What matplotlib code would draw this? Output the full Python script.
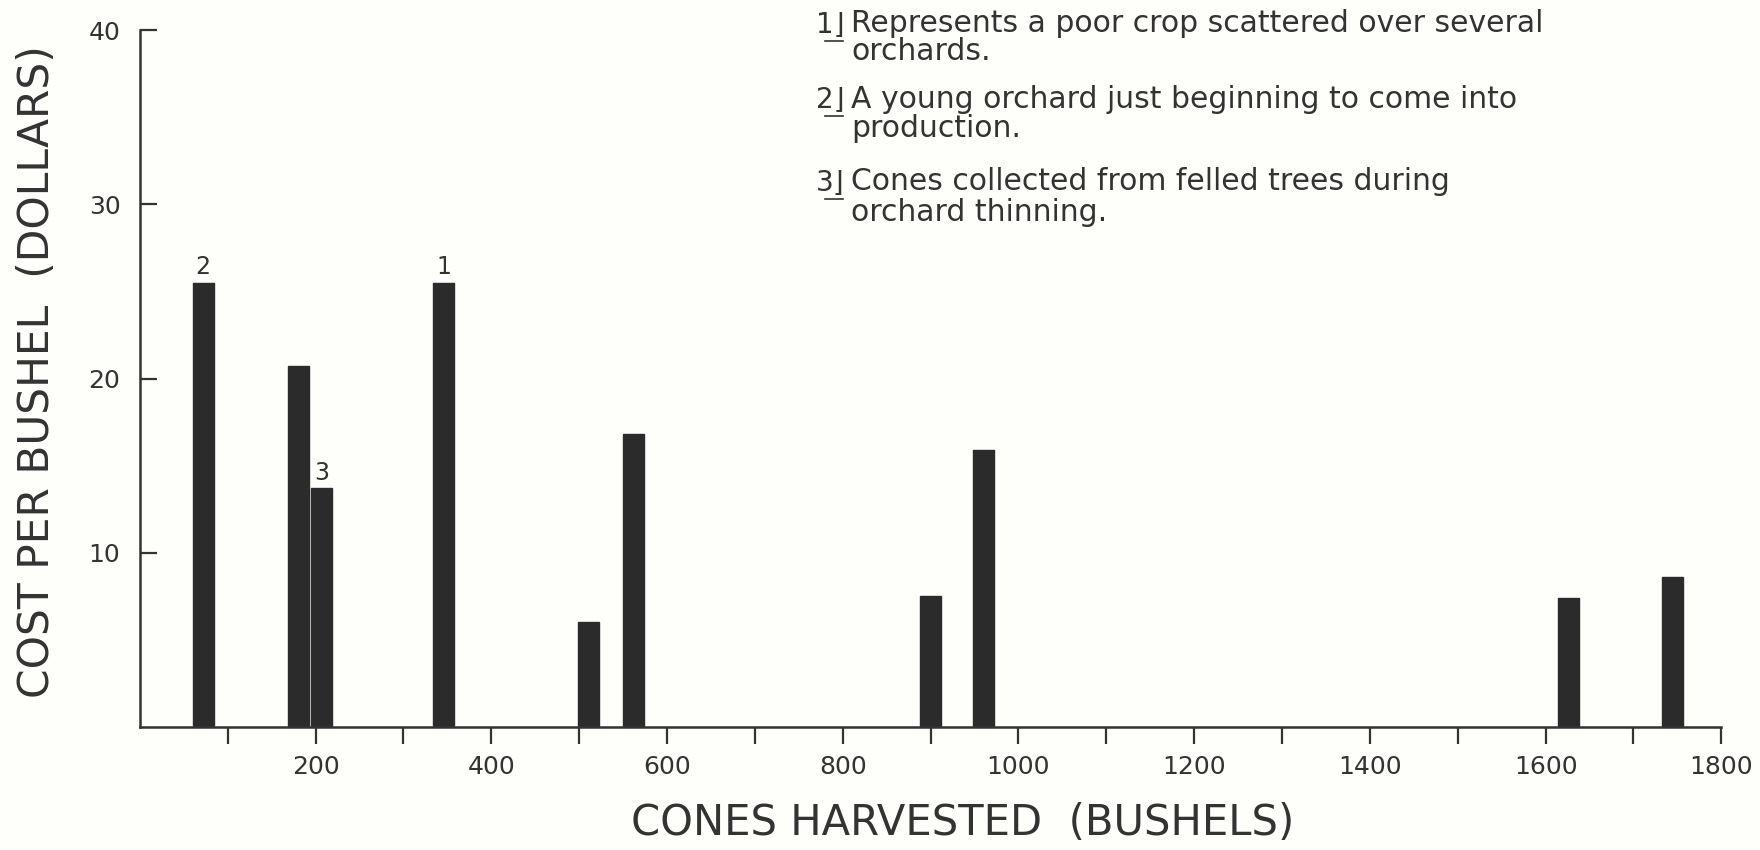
import matplotlib.pyplot as plt
from matplotlib.lines import Line2D

# bushels harvested per orchard and the cost per bushel
bushels = [72, 180, 207, 346, 511, 562, 900, 960, 1626, 1744]
cost = [25.5, 20.7, 13.7, 25.5, 6.0, 16.8, 7.5, 15.9, 7.4, 8.6]
bar_notes = ["2", "", "3", "1", "", "", "", "", "", ""]

note_keys = ["1", "2", "3"]
note_lines = [
    ["Represents a poor crop scattered over several", "orchards."],
    ["A young orchard just beginning to come into", "production."],
    ["Cones collected from felled trees during", "orchard thinning."],
]

ink = "#2b2b2b"
txt_col = "#333333"
bg = "#fefefb"

fig = plt.figure(figsize=(17.6, 8.5), dpi=100, facecolor=bg)
ax = fig.add_axes([0.0795, 0.1447, 0.8985, 0.82])
ax.set_facecolor(bg)

ax.bar(bushels, cost, width=24, color=ink, edgecolor=ink)

for x, y, n in zip(bushels, cost, bar_notes):
    if n:
        ax.text(x, y + 0.2, n, ha="center", va="bottom", fontsize=17, color=txt_col)

ax.set_xlim(0, 1800)
ax.set_ylim(0, 40)
ax.set_xticks(range(200, 1801, 200))
ax.set_xticks(range(100, 1800, 200), minor=True)
ax.set_yticks([10, 20, 30, 40])

for side in ["top", "right"]:
    ax.spines[side].set_visible(False)
for side in ["left", "bottom"]:
    ax.spines[side].set_linewidth(1.8)
    ax.spines[side].set_color(txt_col)

ax.tick_params(axis="x", which="both", direction="out", length=12, width=1.6,
               colors=txt_col, labelsize=18, pad=8)
ax.tick_params(axis="y", direction="in", length=12, width=1.6,
               colors=txt_col, labelsize=18, pad=14)

ax.set_xlabel("CONES HARVESTED  (BUSHELS)", fontsize=30, color=txt_col)
ax.xaxis.set_label_coords(0.52, -0.108)
ax.set_ylabel("COST PER BUSHEL  (DOLLARS)", fontsize=30.5, color=txt_col)
ax.yaxis.set_label_coords(-0.052, 0.51)

# notes block in the upper right
line_y = [[0.972, 0.939], [0.883, 0.849], [0.786, 0.750]]
for key, lines, ys in zip(note_keys, note_lines, line_y):
    fig.text(0.4800, ys[0], key + "\u230b", fontsize=20, color=txt_col,
             va="center", ha="right")
    fig.add_artist(Line2D([0.4690, 0.4790], [ys[0] - 0.020, ys[0] - 0.020],
                          color=txt_col, lw=1.2))
    for txt, y in zip(lines, ys):
        fig.text(0.4835, y, txt, fontsize=21.5, color=txt_col, va="center")

fig.savefig("out.png", dpi=100, facecolor=bg)
